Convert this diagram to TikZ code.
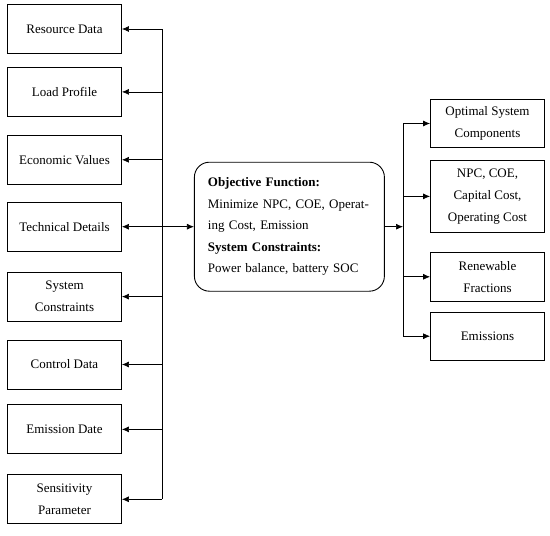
\documentclass[tikz,border=0pt]{standalone}
\usepackage{fontspec}
\setmainfont{Liberation Serif}
\usetikzlibrary{positioning,arrows.meta}

\begin{document}
\begin{tikzpicture}[
    x=1pt, y=1pt,
    box/.style={draw, line width=0.9pt, minimum width=114pt, minimum height=49pt, inner sep=2pt, font=\fontsize{13}{22}\selectfont, align=center},
    arr/.style={-{Latex[length=7pt,width=6pt]}, line width=0.7pt},
    dbl/.style={{Latex[length=7pt,width=6pt]}-{Latex[length=7pt,width=6pt]}, line width=0.7pt},
    bus/.style={line width=0.7pt},
]
\useasboundingbox (0,0) rectangle (550,-536);

% Inputs
\node[box] (res) at (64.5,-29) {Resource Data};
\node[box, below=13pt of res] (load) {Load Profile};
\node[box, below=18pt of load] (econ) {Economic Values};
\node[box, below=17pt of econ] (tech) {Technical Details};
\node[box, below=20pt of tech] (sysc) {System\\Constraints};
\node[box, below=18pt of sysc] (ctrl) {Control Data};
\node[box, below=15pt of ctrl] (emdate) {Emission Date};
\node[box, below=20pt of emdate] (sens) {Sensitivity\\Parameter};

% Model
\node[box, rounded corners=15pt, minimum width=190pt, minimum height=129pt, text width=163pt, align=left, font=\fontsize{13}{21.5}\selectfont, right=72pt of tech] (obj) {\textbf{Objective Function:}\\Minimize NPC, COE, Operat-\\ing Cost, Emission\\\textbf{System Constraints:}\\Power balance, battery SOC};

% Outputs
\node[box, minimum height=48pt] (opt) at (487.5,-123.5) {Optimal System\\Components};
\node[box, minimum height=72pt, below=12pt of opt] (npc) {NPC, COE,\\Capital Cost,\\Operating Cost};
\node[box, below=19pt of npc] (ren) {Renewable\\Fractions};
\node[box, minimum height=48pt, below=10pt of ren] (emis) {Emissions};

% Left bus
\coordinate (lbus) at (162,0);
\draw[bus] (lbus |- res.east) -- (lbus |- sens.east);
\foreach \n in {res,load,econ,sysc,ctrl,emdate,sens}
    \draw[arr] (lbus |- \n.east) -- (\n.east);
\draw[dbl] (tech.east) -- (tech.east -| obj.west);

% Right bus
\coordinate (rbus) at (403,0);
\draw[arr] (obj.east) -- (obj.east -| rbus);
\draw[bus] (rbus |- opt.west) -- (rbus |- emis.west);
\foreach \n in {opt,npc,ren,emis}
    \draw[arr] (rbus |- \n.west) -- (\n.west);
\end{tikzpicture}
\end{document}
